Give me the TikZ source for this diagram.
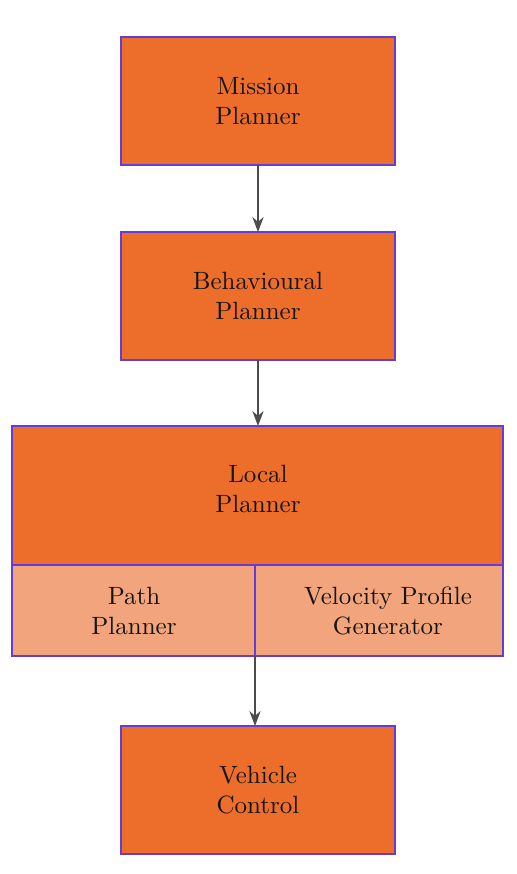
\documentclass[tikz,border=0pt]{standalone}
\usetikzlibrary{arrows.meta}
\definecolor{boxorange}{RGB}{236,110,42}
\definecolor{lightorange}{RGB}{242,164,124}
\definecolor{boxedge}{RGB}{100,60,215}
\begin{document}
\begin{tikzpicture}[x=0.4pt,y=-0.4pt,
  blk/.style={draw=boxedge,line width=0.45pt,fill=boxorange},
  sub/.style={draw=boxedge,line width=0.45pt,fill=lightorange},
  lbl/.style={align=center,font=\normalsize,text=black!92},
  conn/.style={-{Stealth[length=6pt,width=4.5pt]},draw=black!70,line width=0.5pt}]
\useasboundingbox (0,0) rectangle (516,874);
% Mission Planner
\draw[blk] (121,37) rectangle (395,165);
\node[lbl] (mp) at (258,101) {Mission\\Planner};
\coordinate (mpS) at (258,165);
% Behavioural Planner
\draw[blk] (121,232) rectangle (395,360);
\node[lbl] (bp) at (258,296) {Behavioural\\Planner};
\coordinate (bpN) at (258,232);
\coordinate (bpS) at (258,360);
% Local Planner
\draw[blk] (12,426) rectangle (503,565);
\node[lbl] (lp) at (258,489) {Local\\Planner};
\coordinate (lpN) at (258,426);
\draw[sub] (12,565) rectangle (255,656);
\draw[sub] (255,565) rectangle (503,656);
\node[lbl] (pp) at (134,611) {Path\\Planner};
\node[lbl] (vp) at (388,611) {Velocity Profile\\Generator};
\coordinate (lpS) at (255,656);
% Vehicle Control
\draw[blk] (121,726) rectangle (395,854);
\node[lbl] (vc) at (258,790) {Vehicle\\Control};
\coordinate (vcN) at (255,726);
% connectors
\draw[conn] (mpS) -- (bpN);
\draw[conn] (bpS) -- (lpN);
\draw[conn] (lpS) -- (vcN);
\end{tikzpicture}
\end{document}
